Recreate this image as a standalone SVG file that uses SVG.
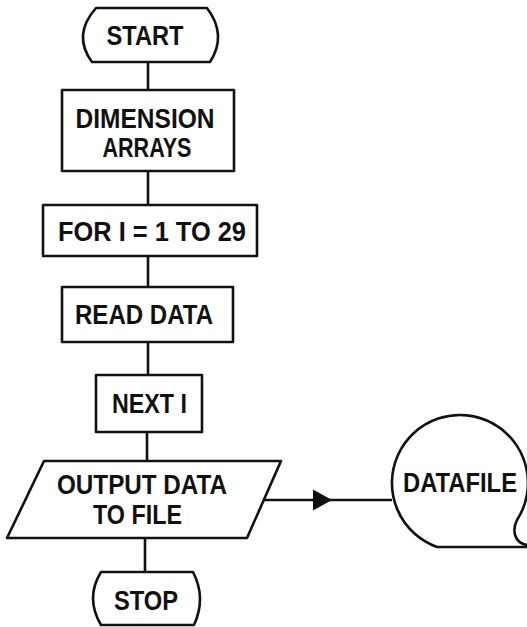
<svg xmlns="http://www.w3.org/2000/svg" width="527" height="627" viewBox="0 0 527 627">
<defs>
<style>
.s{fill:#fff;stroke:#111;stroke-width:2.6;stroke-linejoin:round}
.c{fill:none;stroke:#111;stroke-width:2.6}
.t{font-family:"Liberation Sans",Arial,sans-serif;font-weight:bold;font-size:27px;fill:#111;text-anchor:middle}
</style>
<marker id="ah" markerUnits="userSpaceOnUse" markerWidth="24" markerHeight="24" refX="21" refY="11" orient="auto">
<path d="M2,0.5 L21,11 L2,21.5 Z" fill="#111"/>
</marker>
</defs>
<rect width="527" height="627" fill="#fff"/>
<g id="connectors">
<line class="c" x1="148" y1="62" x2="148" y2="90"/>
<line class="c" x1="148" y1="171" x2="148" y2="205"/>
<line class="c" x1="148" y1="256" x2="148" y2="287"/>
<line class="c" x1="148" y1="342" x2="148" y2="375"/>
<line class="c" x1="147" y1="432" x2="147" y2="461"/>
<line class="c" x1="145" y1="538" x2="145" y2="572"/>
<path class="c" d="M264,500 L332,500 L392,500" marker-mid="url(#ah)"/>
</g>
<g id="start">
<path class="s" d="M96,8 L207,8 Q227.5,35 210,62 L92,62 Q72,35 96,8 Z"/>
<text class="t" x="145" y="45" textLength="77" lengthAdjust="spacingAndGlyphs">START</text>
</g>
<g id="dimension">
<rect class="s" x="62" y="90" width="172" height="81"/>
<text class="t" x="145" y="128" textLength="139" lengthAdjust="spacingAndGlyphs">DIMENSION</text>
<text class="t" x="147" y="157" textLength="89" lengthAdjust="spacingAndGlyphs">ARRAYS</text>
</g>
<g id="for">
<rect class="s" x="43" y="205" width="214" height="51"/>
<text class="t" x="152" y="241" textLength="188" lengthAdjust="spacingAndGlyphs">FOR I = 1 TO 29</text>
</g>
<g id="read">
<rect class="s" x="62" y="287" width="171" height="55"/>
<text class="t" x="144" y="324" textLength="138" lengthAdjust="spacingAndGlyphs">READ DATA</text>
</g>
<g id="next">
<rect class="s" x="96" y="375" width="106" height="57"/>
<text class="t" x="149.5" y="413" textLength="75" lengthAdjust="spacingAndGlyphs">NEXT I</text>
</g>
<g id="output">
<path class="s" d="M44,461 L281,461 L247,538 L7,538 Z"/>
<text class="t" x="142" y="494" textLength="170" lengthAdjust="spacingAndGlyphs">OUTPUT DATA</text>
<text class="t" x="137.5" y="524" textLength="89" lengthAdjust="spacingAndGlyphs">TO FILE</text>
</g>
<g id="datafile">
<path class="s" d="M437,547 A68,68 0 1,1 517,520 C512,530 514,543 527,545 L527,547 Z"/>
<text class="t" x="460" y="492" textLength="114" lengthAdjust="spacingAndGlyphs">DATAFILE</text>
</g>
<g id="stop">
<path class="s" d="M101,572 L193,572 Q206.5,598 194,625 L101,625 Q85,598 101,572 Z"/>
<text class="t" x="146" y="610" textLength="64" lengthAdjust="spacingAndGlyphs">STOP</text>
</g>
</svg>
